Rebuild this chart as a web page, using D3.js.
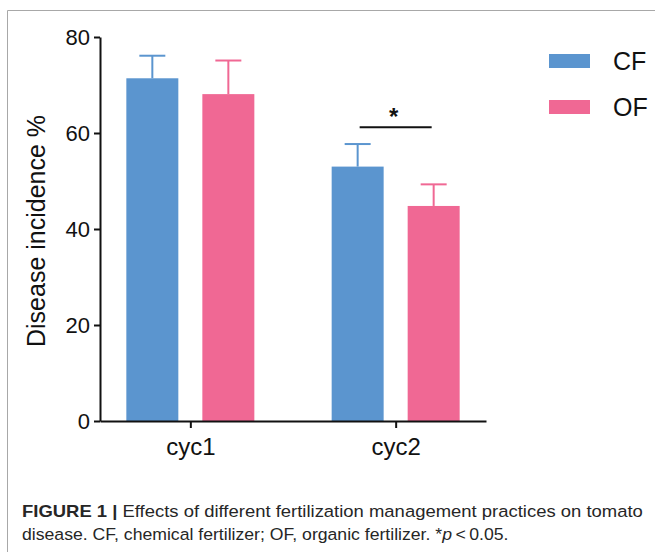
<!DOCTYPE html>
<html>
<head>
<meta charset="utf-8">
<script src="https://cdn.jsdelivr.net/npm/d3@7"></script>
<style>
  body { margin: 0; background: #fff; }
  svg { display: block; font-family: "Liberation Sans", Arial, sans-serif; }
</style>
</head>
<body>
<div id="chart"></div>
<script>
// data
const cycles = ['cyc1', 'cyc2'];
const series = ['CF', 'OF'];
const cfMean = [71.4, 53.0];
const cfErr = [4.7, 4.7];
const ofMean = [68.1, 44.8];
const ofErr = [7.0, 4.5];
const yTicks = [0, 20, 40, 60, 80];
// significance bracket: cycle, height (in %), label
const sigCycle = ['cyc2'];
const sigLevel = [61.2];
const sigLabel = ['*'];

const colors = { CF: '#5b95cf', OF: '#f06894' };

const w = 655, h = 552;

const rows = [];
cycles.forEach((c, i) => {
  rows.push({ cyc: c, s: 'CF', v: cfMean[i], e: cfErr[i] });
  rows.push({ cyc: c, s: 'OF', v: ofMean[i], e: ofErr[i] });
});

const svg = d3.select('#chart').append('svg')
  .attr('width', w)
  .attr('height', h);

// frame around figure
svg.append('path')
  .attr('d', `M7.5,${h} V10.5 H${w}`)
  .attr('fill', 'none')
  .attr('stroke', '#a8a8a8')
  .attr('stroke-width', 1);

const x = d3.scalePoint()
  .domain(cycles)
  .range([100, 486])
  .padding(0.44);

const xs = d3.scaleBand()
  .domain(series)
  .range([-64, 64])
  .paddingInner(0.316);

const y = d3.scaleLinear()
  .domain([0, 80])
  .range([421, 37]);

// bars
svg.selectAll('rect.bar')
  .data(rows)
  .enter()
  .append('rect')
  .attr('class', 'bar')
  .attr('x', d => x(d.cyc) + xs(d.s))
  .attr('y', d => y(d.v))
  .attr('width', xs.bandwidth())
  .attr('height', d => y(0) - y(d.v))
  .attr('fill', d => colors[d.s]);

// error bars (upper only)
const capW = xs.bandwidth() / 2;
const err = svg.selectAll('g.err')
  .data(rows)
  .enter()
  .append('g')
  .attr('class', 'err')
  .attr('stroke', d => colors[d.s])
  .attr('stroke-width', 2);

err.append('line')
  .attr('x1', d => x(d.cyc) + xs(d.s) + xs.bandwidth() / 2)
  .attr('x2', d => x(d.cyc) + xs(d.s) + xs.bandwidth() / 2)
  .attr('y1', d => y(d.v))
  .attr('y2', d => y(d.v + d.e));

err.append('line')
  .attr('x1', d => x(d.cyc) + xs(d.s) + xs.bandwidth() / 2 - capW / 2)
  .attr('x2', d => x(d.cyc) + xs(d.s) + xs.bandwidth() / 2 + capW / 2)
  .attr('y1', d => y(d.v + d.e))
  .attr('y2', d => y(d.v + d.e));

// axes
const yAxis = svg.append('g')
  .attr('transform', 'translate(100,0)')
  .call(d3.axisLeft(y).tickValues(yTicks).tickSize(6).tickSizeOuter(0).tickPadding(4));

const xAxis = svg.append('g')
  .attr('transform', `translate(0,${y(0)})`)
  .call(d3.axisBottom(x).tickSize(7).tickSizeOuter(0).tickPadding(10));

[yAxis, xAxis].forEach(a => {
  a.selectAll('path, line').attr('stroke', '#111').attr('stroke-width', 2);
  a.selectAll('text').attr('fill', '#111').style('font-family', '"Liberation Sans", Arial, sans-serif');
});
yAxis.selectAll('text').style('font-size', '22px').attr('dy', '0.36em');
xAxis.selectAll('text').style('font-size', '24px');

// y axis title
svg.append('text')
  .attr('transform', 'translate(45,231) rotate(-90)')
  .attr('text-anchor', 'middle')
  .attr('fill', '#111')
  .style('font-size', '25px')
  .text('Disease incidence %');

// significance
sigCycle.forEach((c, i) => {
  const x1 = x(c) + xs('CF') + xs.bandwidth() / 2;
  const x2 = x(c) + xs('OF') + xs.bandwidth() / 2;
  svg.append('line')
    .attr('x1', x1 + 2).attr('x2', x2 - 2)
    .attr('y1', y(sigLevel[i])).attr('y2', y(sigLevel[i]))
    .attr('stroke', '#111')
    .attr('stroke-width', 2);
  svg.append('text')
    .attr('x', (x1 + x2) / 2 - 2)
    .attr('y', y(sigLevel[i]) - 2)
    .attr('text-anchor', 'middle')
    .attr('fill', '#111')
    .style('font-size', '24px')
    .style('font-weight', 'bold')
    .text(sigLabel[i]);
});

// legend
const legend = svg.selectAll('.legend')
  .data(series)
  .enter()
  .append('g')
  .attr('class', 'legend')
  .attr('transform', (d, i) => `translate(549,${54 + i * 46})`);

legend.append('rect')
  .attr('width', 41)
  .attr('height', 14)
  .attr('fill', d => colors[d]);

legend.append('text')
  .attr('x', 64)
  .attr('y', 16)
  .attr('fill', '#111')
  .style('font-size', '25px')
  .text(d => d);

// caption (narrow font in the original, so squeeze to the measured width)
function captionLine(yPos, targetW, parts) {
  const t = svg.append('text')
    .attr('fill', '#262626')
    .style('font-size', '16.5px');
  parts.forEach(p => {
    t.append('tspan')
      .style('font-weight', p.b ? 'bold' : 'normal')
      .style('font-style', p.i ? 'italic' : 'normal')
      .text(p.t);
  });
  const len = t.node().getComputedTextLength();
  t.attr('transform', `translate(22,${yPos}) scale(${targetW / len},1)`);
}

captionLine(517, 621, [
  { t: 'FIGURE 1', b: true },
  { t: ' | ', b: true },
  { t: 'Effects of different fertilization management practices on tomato' }
]);
captionLine(540, 487, [
  { t: 'disease. CF, chemical fertilizer; OF, organic fertilizer. *' },
  { t: 'p', i: true },
  { t: '\u2009<\u20090.05.' }
]);
</script>
</body>
</html>
